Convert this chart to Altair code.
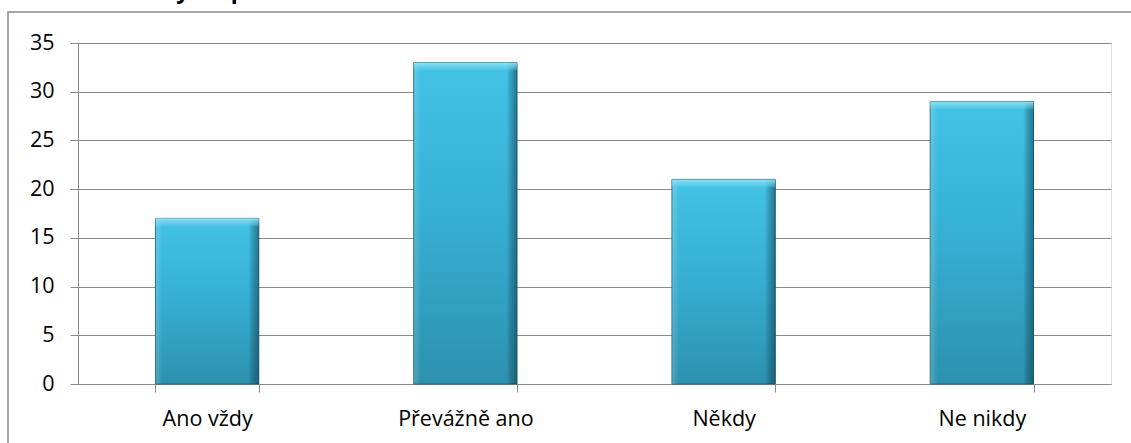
import altair as alt
import pandas as pd

# Survey answers and respondent counts
categories = ["Ano vždy", "Převážně ano", "Někdy", "Ne nikdy"]
counts = [17, 33, 21, 29]
y_ticks = [0, 5, 10, 15, 20, 25, 30, 35]
title_text = "Graf 12: Názory respondentů na otázku č. 12"

df = pd.DataFrame({"kategorie": categories, "pocet": counts})

W, H = 1033, 341
FONT = "Open Sans"
GRID = "#8a8a8a"

x_enc = alt.X(
    "kategorie:N",
    sort=categories,
    scale=alt.Scale(paddingInner=0.6, paddingOuter=0.3),
    axis=alt.Axis(
        title=None,
        labelAngle=0,
        labelFont=FONT,
        labelFontSize=21.5,
        labelColor="#000000",
        labelPadding=16,
        tickBand="extent",
        tickSize=8,
        tickColor=GRID,
        domainColor=GRID,
        grid=False,
    ),
)
y_scale = alt.Scale(domain=[0, 35], nice=False)

base = alt.Chart(df)

# Main body of each bar: vertical cyan gradient with a dark outline
body = base.mark_bar(
    color=alt.LinearGradient(
        gradient="linear",
        x1=0, y1=0, x2=0, y2=1,
        stops=[
            alt.GradientStop(color="#42C3E6", offset=0),
            alt.GradientStop(color="#36AED2", offset=0.5),
            alt.GradientStop(color="#2C91AE", offset=1),
        ],
    ),
    stroke="#1E6478",
    strokeWidth=1,
).encode(
    x=x_enc,
    y=alt.Y(
        "pocet:Q",
        scale=y_scale,
        axis=alt.Axis(
            title=None,
            values=y_ticks,
            labelFont=FONT,
            labelFontSize=21.5,
            labelColor="#000000",
            labelPadding=16,
            tickSize=8,
            tickColor=GRID,
            domainColor=GRID,
            gridColor=GRID,
            gridOpacity=1,
        ),
    ),
)

# Side shading: light left edge, darker right edge
sides = base.mark_bar(
    color=alt.LinearGradient(
        gradient="linear",
        x1=0, y1=0, x2=1, y2=0,
        stops=[
            alt.GradientStop(color="rgba(255,255,255,0.18)", offset=0),
            alt.GradientStop(color="rgba(255,255,255,0)", offset=0.07),
            alt.GradientStop(color="rgba(0,0,0,0)", offset=0.9),
            alt.GradientStop(color="rgba(10,50,70,0.5)", offset=1),
        ],
    ),
).encode(x=x_enc, y=alt.Y("pocet:Q", scale=y_scale))

# Bevel highlight along the top of each bar
bevel = base.transform_calculate(
    bevel_low="datum.pocet - 0.8"
).mark_bar(
    color=alt.LinearGradient(
        gradient="linear",
        x1=0, y1=0, x2=0, y2=1,
        stops=[
            alt.GradientStop(color="rgba(150,228,248,0.95)", offset=0),
            alt.GradientStop(color="rgba(120,215,240,0.2)", offset=1),
        ],
    ),
).encode(
    x=x_enc,
    y=alt.Y("pocet:Q", scale=y_scale),
    y2="bevel_low:Q",
)

# Outer chart frame
frame = alt.Chart(pd.DataFrame({"f": [0]})).mark_rect(
    fillOpacity=0, stroke=GRID, strokeWidth=1.5
).encode(
    x=alt.value(-70), x2=alt.value(W + 60),
    y=alt.value(-31), y2=alt.value(H + 80),
)

# Chart heading, running off the top edge
heading = alt.Chart(pd.DataFrame({"t": [title_text]})).mark_text(
    font=FONT, fontSize=23, fontWeight="bold", align="left",
    baseline="alphabetic", color="#000000",
).encode(
    text="t:N", x=alt.value(-65), y=alt.value(-45),
)

chart = alt.layer(frame, body, sides, bevel, heading).properties(
    width=W,
    height=H,
    autosize=alt.AutoSizeParams(type="none"),
    padding={"left": 78, "top": 43, "right": 20, "bottom": 59},
).configure_view(stroke=None).configure(background="#ffffff")

chart.save("out.html", embed_options={"renderer": "svg", "actions": False})
